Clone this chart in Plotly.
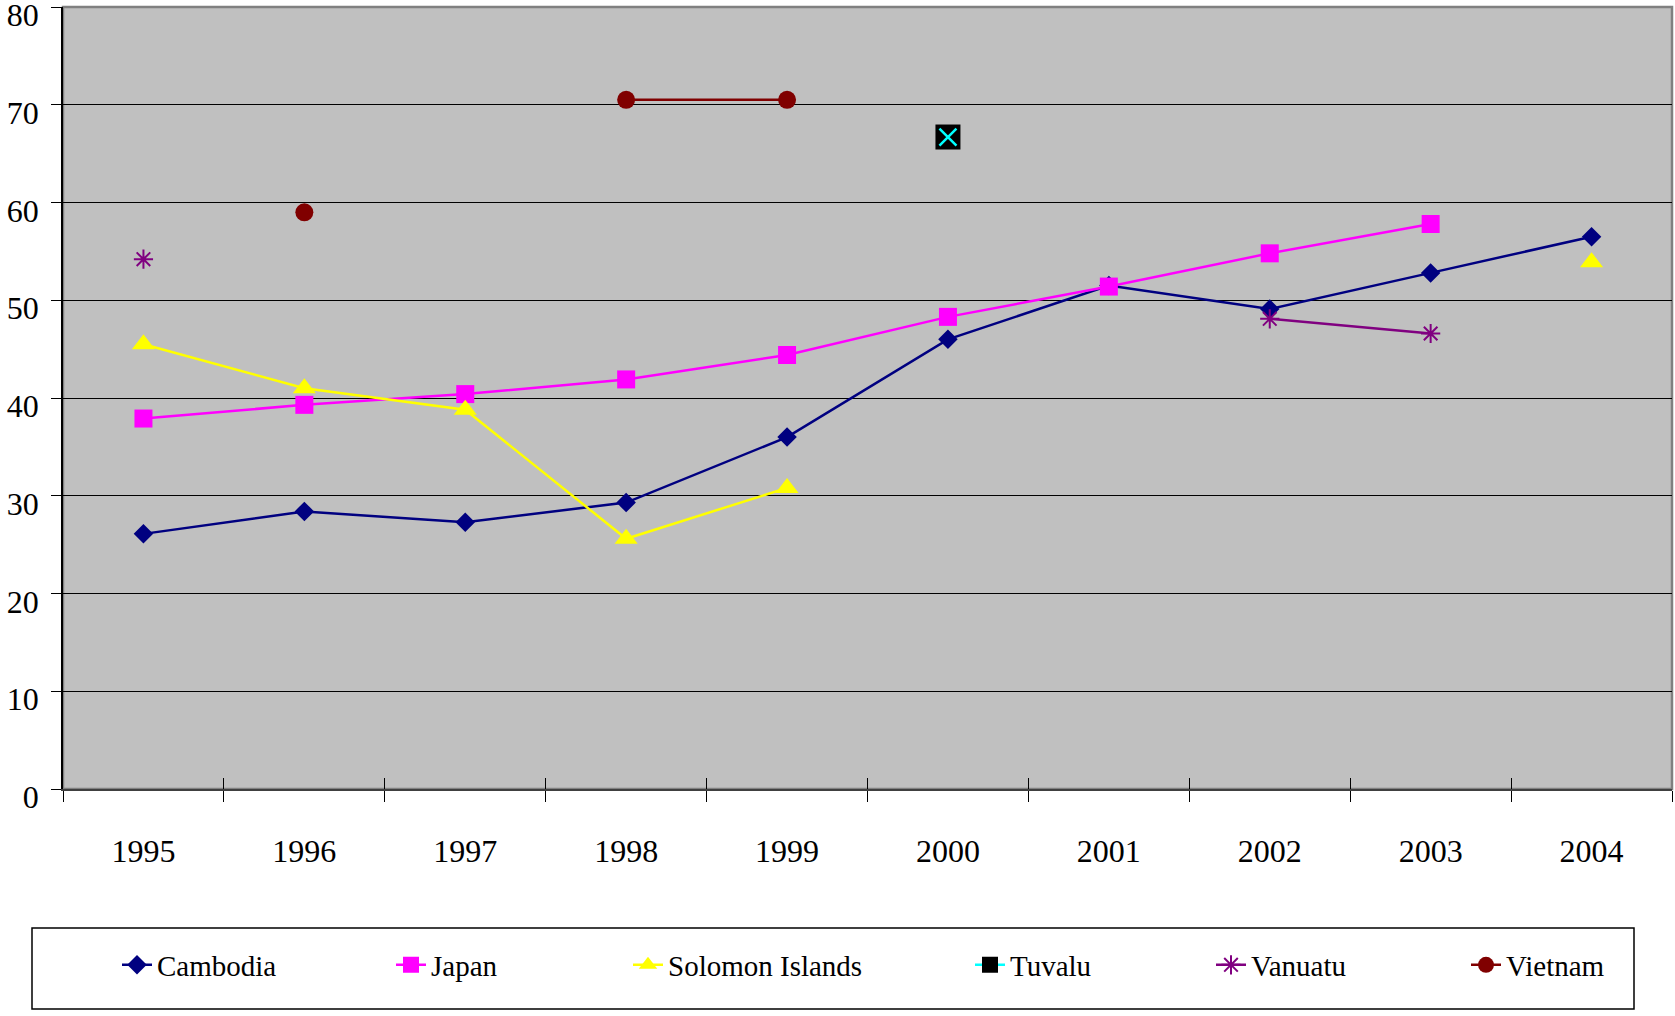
import plotly.graph_objects as go

years = ["1995", "1996", "1997", "1998", "1999", "2000", "2001", "2002", "2003", "2004"]
cambodia = [26.1, 28.4, 27.3, 29.3, 36.0, 46.0, 51.5, 49.1, 52.8, 56.5]
japan = [37.9, 39.3, 40.4, 41.9, 44.4, 48.3, 51.4, 54.8, 57.8, None]
solomon = [45.5, 41.0, 38.8, 25.6, 30.8, None, None, None, None, 53.9]
tuvalu = [None, None, None, None, None, 66.7, None, None, None, None]
vanuatu = [54.2, None, None, None, None, None, None, 48.1, 46.6, None]
vietnam = [None, 59.0, None, 70.5, 70.5, None, None, None, None, None]
y_ticks = [0, 10, 20, 30, 40, 50, 60, 70, 80]

FONT = "Liberation Serif, Times New Roman, serif"
W, H = 1675, 1016
L, R, T, B = 63, 1672, 7, 789

def px_x(p):
    return (p - L) / (R - L)

def px_y(p):
    return (B - p) / (B - T)

# legend text start positions (pixels) for each series
legend_text_px = [157, 431, 668, 1010, 1251, 1506]
LEGEND_Y = 965

fig = go.Figure()

def add(name, vals, color, symbol, size, legend, mcolor=None, mline=None,
        lw=2.5):
    fig.add_trace(go.Scatter(
        x=years, y=vals, name=name, mode="lines+markers", connectgaps=False,
        line=dict(color=color, width=lw),
        marker=dict(symbol=symbol, size=size, color=mcolor or color,
                    line=mline or dict(width=0)),
        legend=legend, xaxis="x", yaxis="y"))

add("Cambodia", cambodia, "#000080", "diamond", 15, "legend")
add("Japan", japan, "#FF00FF", "square", 18, "legend2")
add("Solomon Islands", solomon, "#FFFF00", "triangle-up", 20, "legend3")
add("Tuvalu", tuvalu, "#00FFFF", "square", 25, "legend4", mcolor="#000000")
fig.add_trace(go.Scatter(
    x=years, y=tuvalu, mode="markers", showlegend=False, hoverinfo="skip",
    marker=dict(symbol="x-thin-open", size=17, color="#00FFFF",
                line=dict(color="#00FFFF", width=2.5))))
add("Vanuatu", vanuatu, "#800080", "asterisk-open", 16, "legend5",
    mline=dict(color="#800080", width=2))
add("Vietnam", vietnam, "#800000", "circle", 18, "legend6")

# invisible helper trace carrying the inside tick marks on the secondary x axis
fig.add_trace(go.Scatter(x=[-0.5, 9.5], y=[0, 0], mode="markers",
                         marker=dict(opacity=0), showlegend=False,
                         hoverinfo="skip", xaxis="x2", yaxis="y"))

legend_common = dict(orientation="h", xanchor="left", yanchor="middle",
                     y=px_y(LEGEND_Y), bgcolor="rgba(0,0,0,0)", borderwidth=0,
                     font=dict(family=FONT, size=29, color="black"))
legends = {}
for i, tx in enumerate(legend_text_px):
    key = "legend" if i == 0 else f"legend{i + 1}"
    legends[key] = dict(legend_common, x=px_x(tx - 40))

fig.update_layout(
    width=W, height=H,
    margin=dict(l=L, r=W - R, t=T, b=H - B, pad=0, autoexpand=False),
    paper_bgcolor="white", plot_bgcolor="#C0C0C0",
    font=dict(family=FONT, size=32, color="black"),
    xaxis=dict(type="category", categoryorder="array", categoryarray=years,
               range=[-0.5, 9.5], tickson="boundaries", ticks="outside",
               ticklen=11, tickcolor="black", tickwidth=1,
               showline=True, linecolor="#404040", linewidth=2,
               showgrid=False, zeroline=False, ticklabelstandoff=33,
               automargin=False, ticklabeloverflow="allow",
               tickfont=dict(family=FONT, size=32)),
    xaxis2=dict(overlaying="x", type="linear", range=[-0.5, 9.5],
                tick0=-0.5, dtick=1, ticks="inside", ticklen=11,
                tickcolor="black", showticklabels=False, showgrid=False,
                zeroline=False, showline=False, side="bottom",
                automargin=False),
    yaxis=dict(range=[0, 80], tickvals=y_ticks, ticks="outside", ticklen=10,
               tickcolor="black", showline=True, linecolor="black",
               linewidth=1.5, showgrid=True, gridcolor="black", gridwidth=1,
               zeroline=False, ticklabelstandoff=6, ticklabelshift=8,
               automargin=False, ticklabeloverflow="allow",
               tickfont=dict(family=FONT, size=32)),
    shapes=[
        dict(type="rect", xref="paper", yref="paper", x0=0, x1=1, y0=0, y1=1,
             line=dict(color="#808080", width=2.5), layer="below"),
        dict(type="rect", xref="paper", yref="paper",
             x0=px_x(32), x1=px_x(1634), y0=px_y(1009), y1=px_y(928),
             line=dict(color="black", width=1.5), fillcolor="rgba(0,0,0,0)"),
    ],
    showlegend=True,
    **legends,
)

fig.write_html("out.html", config={"displayModeBar": False},
               post_script="document.body.style.margin='0px';")
